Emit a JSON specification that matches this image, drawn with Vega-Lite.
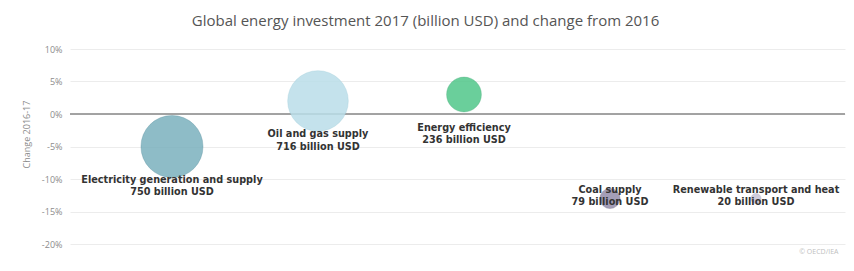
{
  "$schema": "https://vega.github.io/schema/vega-lite/v6.json",
  "width": 775,
  "height": 195,
  "autosize": {"type": "none"},
  "padding": {"left": 70, "top": 49, "right": 9, "bottom": 27},
  "background": "white",
  "title": {
    "text": "Global energy investment 2017 (billion USD) and change from 2016",
    "font": "Open Sans",
    "fontSize": 15,
    "fontWeight": "normal",
    "color": "#555555",
    "anchor": "middle",
    "baseline": "middle",
    "dx": -32,
    "offset": 9
  },
  "config": {
    "view": {"stroke": null},
    "font": "Open Sans"
  },
  "data": {
    "values": [
      {"sector": "Electricity generation and supply", "investment": 750, "change": -5},
      {"sector": "Oil and gas supply", "investment": 716, "change": 2},
      {"sector": "Energy efficiency", "investment": 236, "change": 3},
      {"sector": "Coal supply", "investment": 79, "change": -13},
      {"sector": "Renewable transport and heat", "investment": 20, "change": -13}
    ]
  },
  "transform": [
    {"calculate": "datum.sector + '\\n' + datum.investment + ' billion USD'", "as": "label"}
  ],
  "encoding": {
    "x": {
      "field": "sector",
      "type": "nominal",
      "sort": null,
      "scale": {"type": "point", "padding": 0.654, "align": 0.534},
      "axis": {
        "labels": false,
        "ticks": false,
        "domain": false,
        "grid": false,
        "title": "© OECD/IEA",
        "titleFont": "Open Sans",
        "titleFontSize": 7,
        "titleFontWeight": "normal",
        "titleColor": "#c0c0c0",
        "titleX": 768,
        "titleY": 7,
        "titleAlign": "right",
        "titleBaseline": "middle"
      }
    },
    "y": {
      "field": "change",
      "type": "quantitative",
      "scale": {"domain": [-20, 10], "nice": false},
      "axis": {
        "values": [-20, -15, -10, -5, 0, 5, 10],
        "labelExpr": "datum.value + '%'",
        "labelFont": "Open Sans",
        "labelFontSize": 9,
        "labelColor": "#8c8c8c",
        "labelPadding": 8,
        "ticks": false,
        "domain": false,
        "grid": true,
        "gridColor": "#ececec",
        "gridWidth": 1,
        "title": "Change 2016-17",
        "titleFont": "Open Sans",
        "titleFontSize": 9,
        "titleFontWeight": "normal",
        "titleColor": "#8c8c8c",
        "titleAngle": 270,
        "titleX": -44,
        "titleY": 85,
        "titleAlign": "center",
        "titleBaseline": "middle"
      }
    }
  },
  "layer": [
    {
      "mark": {"type": "rule", "color": "#a0a0a0", "strokeWidth": 1},
      "encoding": {"x": {"value": 0}, "x2": {"value": 775}, "y": {"datum": 0}}
    },
    {
      "mark": {"type": "circle", "opacity": 0.85, "strokeWidth": 1, "strokeOpacity": 0.35},
      "encoding": {
        "size": {
          "field": "investment",
          "type": "quantitative",
          "scale": {"type": "linear", "domain": [0, 750], "range": [0, 3850], "zero": true},
          "legend": null
        },
        "color": {
          "field": "sector",
          "type": "nominal",
          "scale": {
            "domain": ["Electricity generation and supply", "Oil and gas supply", "Energy efficiency", "Coal supply", "Renewable transport and heat"],
            "range": ["#7bb1be", "#badee9", "#51c78a", "#958eab", "#c7c4d6"]
          },
          "legend": null
        },
        "stroke": {
          "field": "sector",
          "type": "nominal",
          "scale": {
            "domain": ["Electricity generation and supply", "Oil and gas supply", "Energy efficiency", "Coal supply", "Renewable transport and heat"],
            "range": ["#3f7f8e", "#8fc4d4", "#2f9e66", "#5e5778", "#9c98b4"]
          },
          "legend": null
        }
      }
    },
    {
      "transform": [{"filter": "datum.investment >= 200"}],
      "mark": {
        "type": "text",
        "font": "DejaVu Sans",
        "fontSize": 9.7,
        "fontWeight": "bold",
        "color": "#333333",
        "align": "center",
        "baseline": "alphabetic",
        "lineBreak": "\n",
        "lineHeight": 12.5,
        "dy": 36
      },
      "encoding": {"text": {"field": "label"}}
    },
    {
      "transform": [{"filter": "datum.investment < 200"}],
      "mark": {
        "type": "text",
        "font": "DejaVu Sans",
        "fontSize": 9.7,
        "fontWeight": "bold",
        "color": "#333333",
        "align": "center",
        "baseline": "alphabetic",
        "lineBreak": "\n",
        "lineHeight": 12.5,
        "dy": -6
      },
      "encoding": {"text": {"field": "label"}}
    }
  ]
}
